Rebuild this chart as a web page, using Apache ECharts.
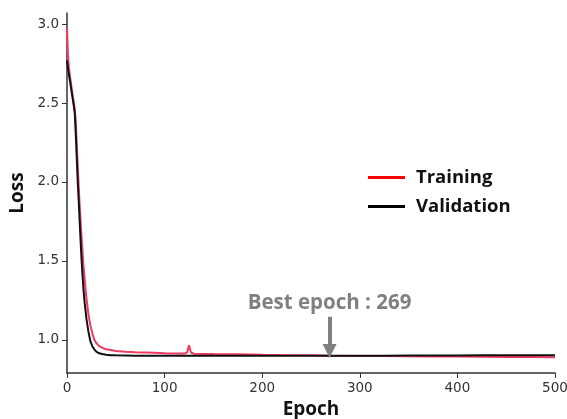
<!DOCTYPE html>
<html><head><meta charset="utf-8">
<script src="https://cdn.jsdelivr.net/npm/echarts@6/dist/echarts.min.js"></script>
<style>html,body{margin:0;padding:0;background:#fff}#c{width:567px;height:419px}</style>
</head><body><div id="c"></div>
<script>
const epochs = [0,1,2,3,4,5,6,7,8,9,10,11,12,13,14,15,16,17,18,20,22,24,26,28,30,33,36,40,45,50,60,70,80,90,100,110,120,123,125,127,130,140,150,175,200,225,250,269,300,325,350,375,400,425,450,475,500];
const training = [2.98,2.80,2.72,2.67,2.63,2.58,2.54,2.50,2.46,2.38,2.24,2.10,1.97,1.85,1.74,1.64,1.55,1.46,1.39,1.26,1.16,1.09,1.04,1.00,0.98,0.96,0.95,0.94,0.935,0.93,0.925,0.922,0.92,0.918,0.915,0.914,0.913,0.92,0.965,0.92,0.912,0.911,0.91,0.908,0.905,0.903,0.902,0.90,0.898,0.897,0.896,0.895,0.894,0.893,0.892,0.891,0.89];
const validation = [2.77,2.72,2.68,2.64,2.60,2.56,2.52,2.48,2.43,2.30,2.15,2.00,1.88,1.75,1.62,1.50,1.40,1.31,1.24,1.13,1.05,0.99,0.96,0.94,0.925,0.915,0.91,0.905,0.903,0.902,0.901,0.90,0.90,0.90,0.90,0.90,0.90,0.90,0.90,0.90,0.90,0.90,0.90,0.90,0.90,0.90,0.90,0.90,0.90,0.90,0.901,0.901,0.901,0.902,0.902,0.902,0.902];
const yTicks = [1.0,1.5,2.0,2.5,3.0];
const bestEpoch = 269;
const bestLabel = 'Best epoch : 269';

const pair = (arr) => epochs.map((e,i)=>[e,arr[i]]);
const chart = echarts.init(document.getElementById('c'));
const tickFont = {fontFamily:'DejaVu Sans', fontSize:13.5, color:'#333'};
chart.setOption({
  animation:false,
  grid:{left:67, right:12, top:13, bottom:46, containLabel:false, outerBoundsMode:'none'},
  legend:{
    left:363, top:163, orient:'vertical', itemGap:10,
    icon:'rect', itemWidth:37, itemHeight:3,
    textStyle:{fontFamily:'Open Sans', fontWeight:'bold', fontSize:18.5, color:'#111', padding:[0,0,0,6]},
    data:['Training','Validation']
  },
  xAxis:{
    type:'value', min:0, max:500, interval:100,
    name:'Epoch', nameLocation:'middle', nameGap:27,
    nameTextStyle:{fontFamily:'Open Sans', fontWeight:'bold', fontSize:19, color:'#111'},
    axisLine:{show:true, lineStyle:{color:'#333', width:1.5}},
    axisTick:{show:true, inside:false, length:5, lineStyle:{color:'#333'}},
    axisLabel:Object.assign({margin:8}, tickFont),
    splitLine:{show:false}
  },
  yAxis:{
    type:'value', min:0.79, max:3.07,
    name:'Loss', nameLocation:'middle', nameGap:38, nameRotate:90,
    nameTextStyle:{fontFamily:'Open Sans', fontWeight:'bold', fontSize:19, color:'#111'},
    axisLine:{show:true, lineStyle:{color:'#333', width:1.5}},
    axisTick:{show:true, inside:false, length:5, lineStyle:{color:'#333'}, customValues:yTicks},
    axisLabel:Object.assign({margin:8, customValues:yTicks, formatter:(v)=>v.toFixed(1)}, tickFont),
    splitLine:{show:false}
  },
  series:[
    {name:'Training', type:'line', data:pair(training), showSymbol:false, symbol:'none',
     itemStyle:{color:'#ff0000'}, lineStyle:{color:'#f23a5e', width:2}, z:2},
    {name:'Validation', type:'line', data:pair(validation), showSymbol:false, symbol:'none',
     itemStyle:{color:'#000'}, lineStyle:{color:'#111', width:2}, z:3,
     markLine:{
       silent:true, symbol:['none','triangle'], symbolSize:[14,14],
       lineStyle:{color:'#808080', width:4, type:'solid'},
       label:{show:true, position:'start', distance:3, formatter:bestLabel,
              fontFamily:'Open Sans', fontWeight:'bold', fontSize:20.5, color:'#808080'},
       data:[[{coord:[bestEpoch,1.146]},{coord:[bestEpoch,0.93]}]]
     }}
  ]
});
</script></body></html>
